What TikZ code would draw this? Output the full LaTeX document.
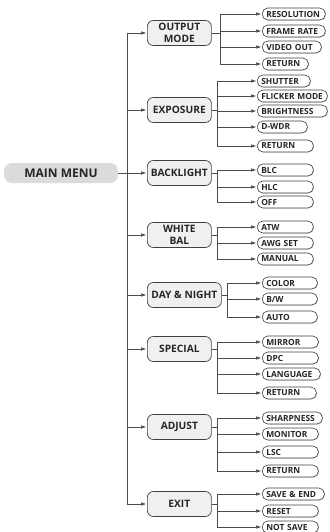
\documentclass[tikz,border=0pt]{standalone}
\usepackage{fontspec}
\setmainfont{Open Sans}
\usetikzlibrary{arrows.meta,shadows}

\tikzset{
  menu/.style={fill=gray!28, rounded corners=8pt, minimum width=114pt, minimum height=20pt,
    font=\bfseries\fontsize{12}{14}\selectfont, text=black!85},
  cat/.style={draw=black!75, line width=0.7pt, fill=gray!12, rounded corners=6pt, anchor=west,
    minimum width=64pt, minimum height=25pt, inner sep=2pt, align=center,
    font=\bfseries\fontsize{10.2}{11.5}\selectfont, text=black!85},
  item/.style={draw=black!75, line width=0.6pt, fill=white, rounded corners=5.5pt, anchor=west,
    minimum height=12pt, inner xsep=4pt, inner ysep=0pt, align=left,
    drop shadow={shadow xshift=0.8pt, shadow yshift=-0.4pt, fill=gray!45, opacity=1},
    font=\bfseries\fontsize{8.4}{9}\selectfont, text=black!85},
  link/.style={draw=black!70, line width=0.6pt},
  arr/.style={link, -{Triangle[length=5pt,width=3pt]}, shorten >=1pt},
}

% one submenu: #1 category node, #2 bus x, #3 item left x, #4 list name/y/width/label
\NewDocumentCommand{\submenu}{mmmm}{%
\coordinate (b#1) at (#2,0);
\foreach \n/\y/\w/\t in {#4} {%
  \node[item, text width=\w pt] (\n) at (#3,\y) {\t};
  \draw[arr] (b#1 |- \n.west) -- (\n.west);
}%
}

\begin{document}
\begin{tikzpicture}[x=1pt,y=-1pt]
\useasboundingbox (0,0) rectangle (329,532);

% main menu and trunk
\node[menu] (main) at (61,173) {MAIN MENU};
\coordinate (trunk) at (127,173);

% categories
\node[cat] (out) at (147,33) {OUTPUT\\MODE};
\node[cat] (exp) at (147,110) {EXPOSURE};
\node[cat] (back) at (147,173) {BACKLIGHT};
\node[cat] (white) at (147,235) {WHITE\\BAL};
\node[cat, minimum width=74pt] (day) at (147,295) {DAY \& NIGHT};
\node[cat] (spec) at (147,349) {SPECIAL};
\node[cat] (adj) at (147,427) {ADJUST};
\node[cat] (exit) at (147,504) {EXIT};

\draw[link] (trunk |- out.west) -- (trunk |- exit.west);
\draw[link] (main.east) -- (trunk);
\foreach \c in {out,exp,back,white,day,spec,adj,exit}
  \draw[arr] (trunk |- \c.west) -- (\c.west);

% output mode
\submenu{out}{220}{262}{res/14/55/RESOLUTION, fps/31/55/FRAME RATE, vid/47/51/VIDEO OUT, outret/64/38/RETURN}
\draw[link] (out.east) -- (bout |- out.east);
\draw[link] (bout |- res.west) -- (bout |- outret.west);

% exposure
\submenu{exp}{217}{257}{shut/81/45/SHUTTER, flick/96/62/FLICKER MODE, bright/111/62/BRIGHTNESS, wdr/127/42/D-WDR, expret/146/48/RETURN}
\draw[link] (exp.east) -- (bexp |- exp.east);
\draw[link] (bexp |- shut.west) -- (bexp |- expret.west);

% backlight
\submenu{back}{217}{257}{blc/170/48/BLC, hlc/187/48/HLC, off/202/48/OFF}
\draw[link] (back.east) -- (bback |- back.east);
\draw[link] (bback |- blc.west) -- (bback |- off.west);

% white balance
\submenu{white}{217}{257}{atw/227/48/ATW, awg/243/48/AWG SET, manual/259/48/MANUAL}
\draw[link] (white.east) -- (bwhite |- white.east);
\draw[link] (bwhite |- atw.west) -- (bwhite |- manual.west);

% day and night
\submenu{day}{227}{262}{color/283/47/COLOR, bw/299/47/{B/W}, auto/317/47/AUTO}
\draw[link] (day.east) -- (bday |- day.east);
\draw[link] (bday |- color.west) -- (bday |- auto.west);

% special
\submenu{spec}{217}{262}{mirror/342/48/MIRROR, dpc/358/48/DPC, lang/374/50/LANGUAGE, specret/393/46/RETURN}
\draw[link] (spec.east) -- (bspec |- spec.east);
\draw[link] (bspec |- mirror.west) -- (bspec |- specret.west);

% adjust
\submenu{adj}{217}{262}{sharp/418/52/SHARPNESS, mon/434/48/MONITOR, lsc/452/48/LSC, adjret/471/48/RETURN}
\draw[link] (adj.east) -- (badj |- adj.east);
\draw[link] (badj |- sharp.west) -- (badj |- adjret.west);

% exit
\submenu{exit}{217}{262}{save/494/54/SAVE \& END, reset/511/48/RESET, nosave/527/48/NOT SAVE}
\draw[link] (exit.east) -- (bexit |- exit.east);
\draw[link] (bexit |- save.west) -- (bexit |- nosave.west);
\end{tikzpicture}
\end{document}
